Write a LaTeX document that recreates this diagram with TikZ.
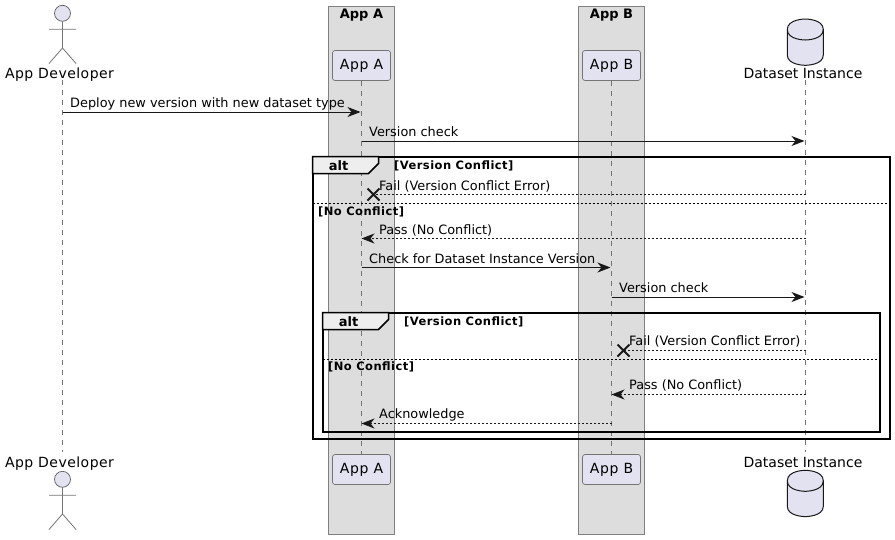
\documentclass[tikz,border=0pt]{standalone}
\usepackage{fontspec}
\setmainfont{DejaVu Sans}
\usetikzlibrary{arrows.meta}
\definecolor{ink}{HTML}{181818}
\definecolor{partfill}{HTML}{E2E2F0}
\definecolor{boxfill}{HTML}{DDDDDD}
\definecolor{tabfill}{HTML}{EEEEEE}
\tikzset{
  x=1pt,y=-1pt,
  groupbox/.style={draw=ink!55,line width=0.8pt,fill=boxfill},
  grouptitle/.style={inner sep=0pt,anchor=base,font=\fontsize{13}{15}\selectfont\bfseries},
  part/.style={draw=ink!60,line width=0.7pt,fill=partfill,rounded corners=2.5pt,minimum width=58pt,minimum height=30pt,inner sep=0pt,font=\fontsize{14}{16}\selectfont\addfontfeature{LetterSpace=5}},
  partlabel/.style={inner sep=0pt,anchor=base,font=\fontsize{14}{16}\selectfont},
  life/.style={draw=ink!60,line width=0.7pt,dash pattern=on 5pt off 5pt},
  msg/.style={draw=ink,line width=1pt,-{Stealth[length=13pt,width=10pt,inset=4pt]}},
  ret/.style={draw=ink,line width=0.9pt,dash pattern=on 2pt off 2pt,-{Stealth[length=13pt,width=10pt,inset=4pt]}},
  failline/.style={draw=ink,line width=0.9pt,dash pattern=on 2pt off 2pt},
  msgtext/.style={inner sep=0pt,anchor=base west,font=\fontsize{12.87}{15}\selectfont},
  cross/.style={draw=ink,line width=1.8pt},
  frameline/.style={draw=black,line width=2pt},
  tabshape/.style={draw=black,line width=1.5pt,fill=tabfill},
  septext/.style={inner sep=0pt,anchor=base west,font=\fontsize{11.5}{13}\selectfont\bfseries\addfontfeature{LetterSpace=3.9}},
  alttext/.style={inner sep=0pt,anchor=base,font=\fontsize{13}{15}\selectfont\bfseries},
  sep/.style={draw=black,line width=0.8pt,dash pattern=on 2pt off 2pt},
  actor/.style={draw=ink!60,line width=0.8pt},
  actorhead/.style={draw=ink!70,line width=0.7pt,fill=partfill},
  dbbody/.style={draw=ink,line width=1pt,fill=partfill},
}
\begin{document}
\begin{tikzpicture}
\useasboundingbox (0,0) rectangle (895,539);
% groups
\path[groupbox] (328.5,6.5) rectangle (394.5,534.5);
\path[groupbox] (578.5,6.5) rectangle (644.5,534.5);
\node[grouptitle] (titleA) at (361.5,18) {App A};
\node[grouptitle] (titleB) at (611.5,18) {App B};
% participants
\node[partlabel,font=\fontsize{14}{16}\selectfont\addfontfeature{LetterSpace=3.3}] (devT) at (59.5,78) {App Developer};
\node[partlabel,font=\fontsize{14}{16}\selectfont\addfontfeature{LetterSpace=3.3}] (devB) at (59.5,467) {App Developer};
\node[part] (aT) at (361.5,65.5) {App A};
\node[part] (bT) at (611.5,65.5) {App B};
\node[part] (aB) at (361.5,469.5) {App A};
\node[part] (bB) at (611.5,469.5) {App B};
\node[partlabel] (dsT) at (803,78) {Dataset Instance};
\node[partlabel] (dsB) at (803,467) {Dataset Instance};
% lifeline anchors
\coordinate (lDev) at (62.5,80);
\coordinate (lDevEnd) at (62.5,452);
\coordinate (lDs) at (805.5,80);
\coordinate (lDsEnd) at (805.5,452);
\path[life] (lDev) -- (lDevEnd);
\path[life] (aT.south) -- (aB.north);
\path[life] (bT.south) -- (bB.north);
\path[life] (lDs) -- (lDsEnd);
% actors
\foreach \o/\n in {0/t,466/b}{
  \begin{scope}[yshift=-\o pt]
  \path[actorhead] (62.5,13.3) circle (8);
  \path[actor] (62.5,21.3) -- (62.5,48) (49,29.3) -- (76,29.3) (49,63.5) -- (62.5,48) -- (76,63.5);
  \end{scope}
}
% databases
\foreach \o in {0,451.3}{
  \begin{scope}[yshift=-\o pt]
  \path[dbbody] (787.3,29.5) .. controls (787.3,19) and (805.3,19) .. (805.3,19)
     .. controls (805.3,19) and (823.3,19) .. (823.3,29.5) -- (823.3,55)
     .. controls (823.3,65.3) and (805.3,65.3) .. (805.3,65.3)
     .. controls (805.3,65.3) and (787.3,65.3) .. (787.3,55) -- cycle;
  \path[draw=ink,line width=1pt] (787.3,29.5) .. controls (787.3,40) and (805.3,40) .. (805.3,40)
     .. controls (805.3,40) and (823.3,40) .. (823.3,29.5);
  \end{scope}
}
% messages
\path[msg] (lDev |- 0,112) -- ([xshift=-1pt]aT.south |- 0,112);
\node[msgtext] (t1) at (70,107) {Deploy new version with new dataset type};
\path[msg] (aT.south |- 0,141) -- ([xshift=-1pt]lDs |- 0,141);
\node[msgtext] (t2) at (369,136) {Version check};
% outer frame
\path[frameline] (312.5,156.5) rectangle (889.5,438.5);
\path[tabshape] (312.5,156.5) -- (378.5,156.5) -- (378.5,163.5) -- (368.5,173.5) -- (312.5,173.5) -- cycle;
\node[alttext] (alt1) at (338.5,170) {alt};
\node[septext] (g1) at (394,169) {[Version Conflict]};
\path[failline] (lDs |- 0,194.5) -- (374,194.5);
\path[cross] (367.5,188.5) -- (379.5,200.5) (379.5,188.5) -- (367.5,200.5);
\node[msgtext] (t3) at (379,190) {Fail (Version Conflict Error)};
\path[sep] (312.5,203.5) -- (889.5,203.5);
\node[septext] (g2) at (318,215) {[No Conflict]};
\path[ret] (lDs |- 0,238.5) -- (aT.south |- 0,238.5);
\node[msgtext] (t4) at (379,234) {Pass (No Conflict)};
\path[msg] (aT.south |- 0,267.5) -- ([xshift=-1pt]bT.south |- 0,267.5);
\node[msgtext] (t5) at (369,263) {Check for Dataset Instance Version};
\path[msg] (bT.south |- 0,297) -- ([xshift=-1pt]lDs |- 0,297);
\node[msgtext] (t6) at (619,292) {Version check};
% inner frame
\path[frameline] (322.5,312.5) rectangle (879.5,431.5);
\path[tabshape] (322.5,312.5) -- (388.5,312.5) -- (388.5,319.5) -- (378.5,329.5) -- (322.5,329.5) -- cycle;
\node[alttext] (alt2) at (348.5,326) {alt};
\node[septext] (g3) at (404,325) {[Version Conflict]};
\path[failline] (lDs |- 0,350.5) -- (624,350.5);
\path[cross] (617.5,344.5) -- (629.5,356.5) (629.5,344.5) -- (617.5,356.5);
\node[msgtext] (t7) at (629,345.5) {Fail (Version Conflict Error)};
\path[sep] (322.5,359.5) -- (879.5,359.5);
\node[septext] (g4) at (328,370.5) {[No Conflict]};
\path[ret] (lDs |- 0,394.5) -- (bT.south |- 0,394.5);
\node[msgtext] (t8) at (629,389.5) {Pass (No Conflict)};
\path[ret] (bT.south |- 0,423.5) -- (aT.south |- 0,423.5);
\node[msgtext] (t9) at (379,418.5) {Acknowledge};
\end{tikzpicture}
\end{document}
